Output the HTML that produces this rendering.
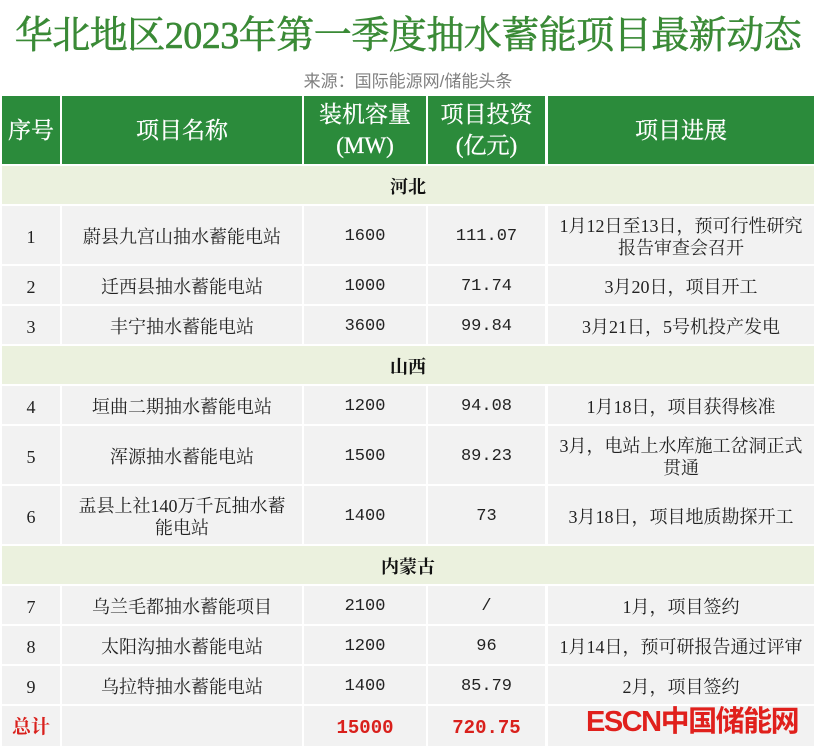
<!DOCTYPE html>
<html><head><meta charset="utf-8"><style>
body{margin:0;width:816px;height:746px;background:#fff;position:relative;overflow:hidden;font-family:"Liberation Serif","Noto Serif CJK SC",serif;}
.t{position:absolute;left:0;width:816px;top:13px;text-align:center;font-size:38px;color:#3a8a36;font-family:"Liberation Serif","Noto Serif CJK SC",serif;letter-spacing:-0.5px;line-height:46px;white-space:nowrap;-webkit-text-stroke:0.6px #3a8a36;}
.s{position:absolute;left:0;width:816px;top:71px;text-align:center;font-size:17px;color:#808080;font-family:"Liberation Sans","Noto Sans CJK SC",sans-serif;line-height:22px;}
.c{position:absolute;display:flex;align-items:center;justify-content:center;text-align:center;font-size:18px;color:#222;background:#f2f2f2;line-height:22px;box-sizing:border-box;padding-top:3px;}
.n{font-family:"Liberation Mono","Noto Serif CJK SC",monospace;font-size:17px;}
.h{background:#2b8b3b;color:#fff;font-size:23px;line-height:31px;-webkit-text-stroke:0.3px #fff;padding-top:0;}
.g{background:#ebf1de;font-weight:bold;color:#111;}
.r{color:#d9201c;background:#f2f2f2;font-weight:bold;font-size:19px;}
</style></head><body>
<div class="t">华北地区2023年第一季度抽水蓄能项目最新动态</div>
<div class="s">来源：国际能源网/储能头条</div>
<div id="tb"></div>
<script>
var X=[[2,58],[62,240],[304,122],[428,117],[548,266]];
var rows=[
["h",96,68,["序号","项目名称","装机容量<br>(MW)","项目投资<br>(亿元)","项目进展"]],
["g",166,38,"河北"],
["d",206,58,["1","蔚县九宫山抽水蓄能电站","1600","111.07","1月12日至13日，预可行性研究报告审查会召开"]],
["d",266,38,["2","迁西县抽水蓄能电站","1000","71.74","3月20日，项目开工"]],
["d",306,38,["3","丰宁抽水蓄能电站","3600","99.84","3月21日，5号机投产发电"]],
["g",346,38,"山西"],
["d",386,38,["4","垣曲二期抽水蓄能电站","1200","94.08","1月18日，项目获得核准"]],
["d",426,58,["5","浑源抽水蓄能电站","1500","89.23","3月，电站上水库施工岔洞正式贯通"]],
["d",486,58,["6","盂县上社140万千瓦抽水蓄能电站","1400","73","3月18日，项目地质勘探开工"]],
["g",546,38,"内蒙古"],
["d",586,38,["7","乌兰毛都抽水蓄能项目","2100","/","1月，项目签约"]],
["d",626,38,["8","太阳沟抽水蓄能电站","1200","96","1月14日，预可研报告通过评审"]],
["d",666,38,["9","乌拉特抽水蓄能电站","1400","85.79","2月，项目签约"]],
["r",706,40,["总计","","15000","720.75",""]]
];
var h="";
rows.forEach(function(r){
 if(r[0]=="g"){h+='<div class="c g" style="left:2px;width:812px;top:'+r[1]+'px;height:'+r[2]+'px">'+r[3]+'</div>';return;}
 for(var i=0;i<5;i++){
  var cls=r[0]=="h"?"c h":(r[0]=="r"?"c r":"c");
  if(r[0]!="h"&&(i==2||i==3))cls+=" n";
  var pad=(i==1||i==4)&&r[0]=="d"?"padding-left:8px;padding-right:8px;":"";
  h+='<div class="'+cls+'" style="'+pad+'left:'+X[i][0]+'px;width:'+X[i][1]+'px;top:'+r[1]+'px;height:'+r[2]+'px">'+r[3][i]+'</div>';
 }
});
document.getElementById("tb").innerHTML=h;
</script>
<div style="position:absolute;left:586px;top:704px;font-family:'Liberation Sans','Noto Sans CJK SC',sans-serif;font-weight:bold;color:#e0201c;font-size:29px;line-height:36px;letter-spacing:-1.5px;white-space:nowrap;">ESCN中国储能网</div>
</body></html>
